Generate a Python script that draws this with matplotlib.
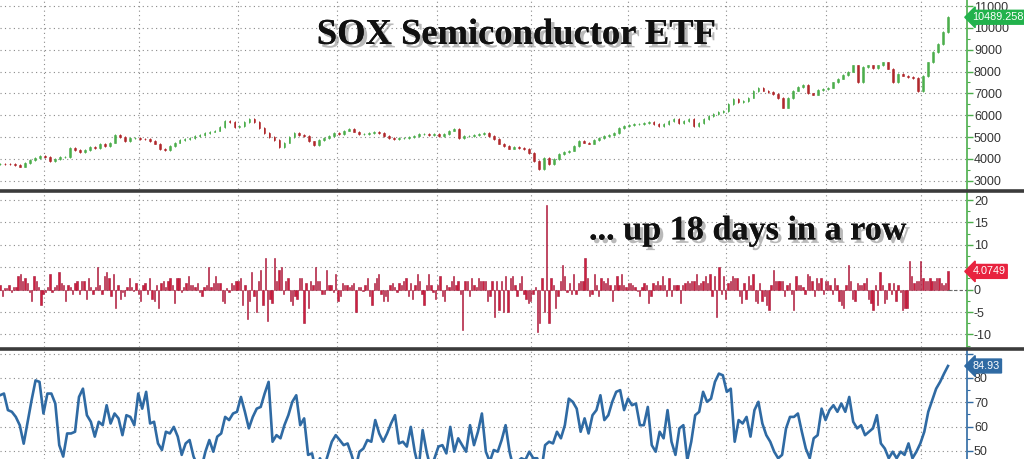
import numpy as np
import matplotlib
matplotlib.use("Agg")
import matplotlib.pyplot as plt
from matplotlib.lines import Line2D
import matplotlib.patheffects as pe

# --- data ---
# daily closes of the ETF (left to right)
close = [3780, 3760, 3750, 3720, 3650, 3800, 3950, 4050, 4150, 4100,
         3920, 3980, 4080, 4100, 4500, 4400, 4330, 4420, 4560, 4480,
         4700, 4600, 4750, 5100, 5000, 4830, 4950, 4970, 4920, 4900,
         4830, 4700, 4450, 4400, 4600, 4750, 4850, 4900, 4970, 5050,
         5100, 5200, 5250, 5300, 5450, 5750, 5700, 5450, 5500, 5700,
         5850, 5700, 5400, 5200, 5000, 4880, 4550, 4750, 5000, 5200,
         5100, 5060, 4800, 4650, 4850, 4970, 5050, 5200, 5150, 5300,
         5380, 5250, 5150, 5150, 5200, 5250, 5200, 5050, 4950, 4900,
         4950, 4970, 5000, 5050, 5150, 5150, 5100, 5150, 5060, 5150,
         5300, 5380, 4970, 5050, 5060, 5100, 5150, 5200, 5050, 4900,
         4700, 4600, 4470, 4550, 4510, 4450, 4280, 3900, 3550, 4060,
         3780, 4000, 4240, 4300, 4380, 4600, 4830, 4750, 4700, 4850,
         4970, 5050, 5100, 5200, 5400, 5520, 5550, 5600, 5610, 5650,
         5700, 5600, 5520, 5600, 5750, 5840, 5660, 5750, 5840, 5520,
         5650, 5840, 5950, 6070, 6150, 6210, 6500, 6760, 6600, 6650,
         6810, 7100, 7250, 7130, 7050, 6990, 6800, 6350, 6800, 7130,
         7300, 7400, 7000, 6950, 7170, 7200, 7270, 7500, 7680, 7850,
         8000, 8280, 7500, 8200, 8280, 8150, 8280, 8420, 8140, 7500,
         7900, 7820, 7750, 7700, 7100, 7800, 8420, 8900, 9280, 9800,
         10489.258]

# daily % change
daily_change = [
    1, -1.5, 0.3, 0.3, 1, -0.5, 0.5, 0.5, 3, 3.5, 2,
    2.5, 1.5, -0.5, -2.5, 3, 2, 0.5, -3.5, -1, -0.5, 0.5,
    3.5, -0.5, 0.5, 1, 4, 1.5, 1, -2.5, 1, 0.5, -1,
    1.5, 2, -1, 2, 2, -2, 2.5, 0.5, -1, 0.5, 5,
    1, -1, 3, 4, 2.5, -1.5, 3.5, -4, 1, -2, -0.5,
    -1.5, 0.5, 2.5, 0.5, -0.3, 1.5, -1, -2.5, 1, 1.5,
    -1, 2.5, -2, -2.5, 1, -4, 1.5, 2, 0.5, 2, 2.5,
    1, -3, 2.5, 2.5, -0.5, 0.5, 1.5, 3, 1, 1, 0.5,
    1.5, -0.5, -1.5, 0.5, 1, 5, 0.5, 1.5, 3, 1.5,
    1.5, -2.5, -3, 0.3, -0.5, 1.5, 1, 2, 2, 2.5,
    -3.5, 1, -6.5, -2.5, 4, -1.5, -5, 2, 4.5, -3.5,
    7, -7, -2, -3, 7, 2, 4.5, 5, -1, 2,
    2.5, -2.5, -3.5, -1.5, -2, 2.5, 2.5, -7.5, 1.5, -4,
    2, 1, 5, 2, 2, -1, -1, 4.5, 1, 1,
    -0.5, 3.5, -2.5, -1.5, 1.5, 1, 1, 0.5, 1, 1.5, -5,
    0.5, 0.5, -0.3, 1, 2.5, -1.5, -3.5, 1.5, 2.5, 3.5,
    -1, -2.5, -1.5, -2.5, 1, 1.5, 0.5, -0.5, 1.5, 1, 2,
    2.5, -1.5, 1.5, -2, 1, 3.5, 2, -1, -3.5, 1,
    3.5, 1, -0.5, -2, 1, 3, -1.5, -2.5, 1, 0.5, 2,
    3, 1, 2, -1, -9, 2, 2, -1.5, 2.5, 1,
    0.5, 2.5, 2, 2, 2, -2.5, -1.5, 2, -6, 2,
    -4.5, 2, -5, 3, -5, 2.5,
    3, 1, -1.5, 1.5, 3, -1, -2, -3, -2.5, -1,
    0.5, -9.5, -7.5, 2.5, -5, 19, -7.5, 2.5, 1, -4,
    -1.5, 2, 5.5, 3, -0.5, 1.5, -1, 3.5, -1, 1.5,
    2, 2, 7, 2.5, -1.5, -1, 3.5, 1,
    -1.5, 2.5, 2, 1.5, 2.5, 1, -2.5, 1, 3, 1,
    3.5, 1, 0.5, 1.5, 1.5, 1, 0.5,
    -0.3, -1.5, 0.5, 1.5, 1, -3, -1.5, 1.5, 1, 2,
    1, 3, 1, -1.5, 2.5, -1.5, 1, 1, 1,
    -3, 1, 1.5, 2, 1.5, 2, 2, 3.5, 1,
    1.5, 2, 3, 1.5, 3.5, -1.5, 3, -6,
    5, -1, 3, -2, 1.5, 2, 3, 2.5, 2.5, -1.5,
    -3, 1.5, -2, 3, 1, 3.5, -2.5, -3, 1.5, -2.5,
    -1.5, -3.5, -4.5, 1, 4.5, 2, 2, 2, 2, -1.5,
    1, 1.5, -1, -4.5, 3, 1, 1, 0.5,
    -1, 3.5, 3, 2, -1.5, 2.5, 1.5, 2.5, -1,
    2, 2, 1, -1, 2.5, 1, -2.5, -3.5, -4, 1,
    5.5, 2, -2, -2.5, 1.5, 1, 1, 1.5, 2.5,
    -2, -3, -4.5, 1, -3.5, 4, 1, -3, -2, 1.5,
    -1, 1.5, -2.5, 1, -0.5, -4.5, -4, -4,
    6.5, 3, 1.5, 2, 2, 6.5, 2.5, 2, 2, 2.5, 2, 2, 2.5, 2.5, 1.5, 1, 1.5, 4.0749]

# 14-day RSI
rsi = [72.9, 73.6, 66.8, 66.1, 64, 60.6, 53, 62, 70.9, 79, 78.4, 65.4, 73.6, 73.6,
       69.5, 52.4, 47.7, 57.2, 57.2, 57.9, 72.2, 75.6, 64.7, 62, 55.9, 62, 60.6,
       68.8, 61.3, 65.4, 63.4, 56.5, 64.7, 64, 60.6, 73.6, 67.4, 74.3, 61.3, 62,
       53.1, 50.4, 57.9, 57.2, 59.9, 55.9, 48.4, 53.1, 54.5, 47.7, 44, 43, 49.7,
       54.5, 49.7, 55.9, 57.2, 64, 62.7, 65.4, 66.1, 72.2, 66.1, 59.3, 64, 67.4,
       68.1, 73.6, 78.4, 53.8, 56.5, 55.2, 60.6, 64.7, 70.2, 72.9, 60.6, 63.4,
       48.4, 49, 41.5, 47, 43, 48.4, 53.8, 56.5, 54.5, 52.4, 53.1, 48.4, 43, 49.7,
       51, 54.5, 53.8, 62.7, 57.2, 53.8, 57.2, 61.3, 64.7, 53.1, 53.8, 51.8, 59.9,
       49.7, 43, 58.6, 49.7, 43, 47, 51.8, 52.4, 49, 59.9, 49.7, 55.2, 52.4, 49.7,
       60.6, 52.4, 57.9, 65.4, 49.7, 45.6, 50.4, 49.7, 54.5, 60.6, 49.7, 43, 45.6,
       47, 46.3, 49.7, 47, 47, 41.5, 52.4, 53.8, 53.1, 57.9, 55.2, 60.6, 71.5,
       70.2, 67.4, 57.9, 63.4, 57.2, 64.7, 66.8, 72.9, 62.7, 64.7, 70.2, 74.3, 75,
       66.8, 71.5, 68.8, 69.5, 60.6, 60.6, 68.1, 52.4, 49.7, 57.9, 55.2, 66.8,
       53.8, 48.4, 59.3, 60.6, 46.3, 53.8, 64.7, 66.1, 74.3, 70.2, 71.5, 78.4,
       81.8, 81.1, 74.3, 75.6, 53.8, 62.7, 61.3, 64, 55.9, 66.8, 70.2, 61.3, 56.5,
       53.8, 49.7, 47, 48.4, 59.3, 64, 64, 65.4, 57.9, 51, 47, 55.2, 56.5, 67.4,
       62.7, 66.8, 68.8, 66.1, 69.5, 66.1, 72.2, 62, 59.3, 60.6, 56.5, 57.9, 59.3,
       64.7, 53.1, 51, 47, 49.7, 47, 49.7, 48.4, 53.1, 47, 49.7, 53.1, 57.9, 66.1,
       70.9, 75.6, 78.4, 81.8, 84.93]

# --- layout (pixels of the 1024x459 output) ---
W, H = 1024, 459
PLOT_RIGHT = 967      # right axis position
DATA_END = 948        # last session
grid_px = [44, 139, 238, 337, 437, 531, 628, 726, 826, 921]

span = len(close) - 1
x_max = span * PLOT_RIGHT / DATA_END
grid_x = [p * span / DATA_END for p in grid_px]

GREEN = "#4cae4c"
RED = "#b0282c"
BAR_RED = "#cf1f3f"
BLUE = "#2f6aa3"
GRID = "#8a8a8a"


def fig_rect(top_px, bottom_px):
    return [0, 1 - bottom_px / H, PLOT_RIGHT / W, (bottom_px - top_px) / H]


def style_axis(ax, ylim, ticks, axis_color, minor=None):
    ax.set_xlim(0, x_max)
    ax.set_ylim(*ylim)
    ax.set_facecolor("white")
    for s in ["top", "left", "bottom"]:
        ax.spines[s].set_visible(False)
    ax.spines["right"].set_color(axis_color)
    ax.spines["right"].set_linewidth(1.2)
    ax.yaxis.tick_right()
    ax.set_yticks(ticks)
    if minor is not None:
        ax.set_yticks(minor, minor=True)
    ax.tick_params(axis="y", which="major", direction="out", length=4, width=1,
                   color=axis_color, labelsize=9, labelcolor="#333333", pad=1)
    ax.tick_params(axis="y", which="minor", direction="out", length=2.5, width=0.8,
                   color=axis_color)
    ax.set_xticks([])
    for gx in grid_x:
        ax.axvline(gx, color=GRID, lw=0.8, ls=(0, (1, 3)), zorder=0)
    for gy in ticks:
        ax.axhline(gy, color=GRID, lw=0.8, ls=(0, (1, 3)), zorder=0)


def tag(ax, value, text, color):
    ax.annotate(text, xy=(1.0, value), xycoords=("axes fraction", "data"),
                xytext=(3.8, 0), textcoords="offset points", va="center", ha="left",
                fontsize=7.8, color="white", fontfamily="Liberation Sans",
                annotation_clip=False,
                bbox=dict(boxstyle="larrow,pad=0.18", fc=color, ec=color))


plt.rcParams["font.family"] = ["Liberation Sans", "DejaVu Sans"]
fig = plt.figure(figsize=(W / 100, H / 100), dpi=100)

# --- price panel ---
ax1 = fig.add_axes(fig_rect(0, 189))
style_axis(ax1, (2620, 11280), list(range(3000, 11001, 1000)), GREEN,
           minor=list(range(3500, 11000, 1000)))
xs = np.arange(len(close))
opens = np.array([close[0]] + close[:-1])
closes = np.array(close)
up = closes >= opens
cols = np.where(up, GREEN, RED)
ax1.bar(xs, closes - opens, bottom=opens, width=0.35, color=cols,
        edgecolor=cols, linewidth=0.4, zorder=3)
ax1.vlines(xs, np.minimum(opens, closes) - 40, np.maximum(opens, closes) + 40,
           colors=cols, lw=0.7, zorder=3)
tag(ax1, close[-1], f"{close[-1]:.3f}", "#22b24c")

# --- daily change panel ---
ax2 = fig.add_axes(fig_rect(192, 347))
style_axis(ax2, (-12.8, 21.8), [-10, -5, 0, 5, 10, 15, 20], GREEN,
           minor=[-12.5, -7.5, -2.5, 2.5, 7.5, 12.5, 17.5])
xb = np.linspace(0, span, len(daily_change))
step_b = xb[1] - xb[0]
ax2.bar(xb, daily_change, width=step_b * 0.6, color=BAR_RED,
        edgecolor="#a3183a", linewidth=0.4, zorder=3)
ax2.hlines(0, span, x_max, colors="#666666", lw=0.8, linestyles=(0, (3, 2)), zorder=3)
tag(ax2, daily_change[-1], f"{daily_change[-1]:.4f}", "#e8233f")
ax2.set_yticklabels(["-10", "-5", "0", "", "10", "15", "20"])

# --- RSI panel ---
ax3 = fig.add_axes(fig_rect(350, 459))
style_axis(ax3, (46.7, 91.5), [50, 60, 70, 80, 90], BLUE,
           minor=[55, 65, 75, 85])
xr = np.linspace(0, span, len(rsi))
ax3.plot(xr, rsi, color=BLUE, lw=1.9, zorder=3, solid_joinstyle="round")
tag(ax3, rsi[-1], f"{rsi[-1]:.2f}", BLUE)
ax3.set_yticklabels(["50", "60", "70", "80", ""])

# --- panel separators ---
for ypx in [190.5, 348.5]:
    fig.add_artist(Line2D([0, 1], [1 - ypx / H, 1 - ypx / H], color="#3b3b3b",
                          lw=2.6, transform=fig.transFigure))

shadow = [pe.withSimplePatchShadow(offset=(2.5, -2.5), shadow_rgbFace="#808080", alpha=0.55),
          pe.Normal()]
fig.text(0.504, 0.925, "SOX Semiconductor ETF", ha="center", va="center",
         fontsize=26.3, fontfamily="Liberation Serif", fontweight="bold",
         color="#111111", path_effects=shadow)
fig.text(0.73, 0.497, "... up 18 days in a row", ha="center", va="center",
         fontsize=24.6, fontfamily="Liberation Serif", fontweight="bold",
         color="#111111", path_effects=shadow)

fig.savefig("out.png", dpi=100, facecolor="white")
